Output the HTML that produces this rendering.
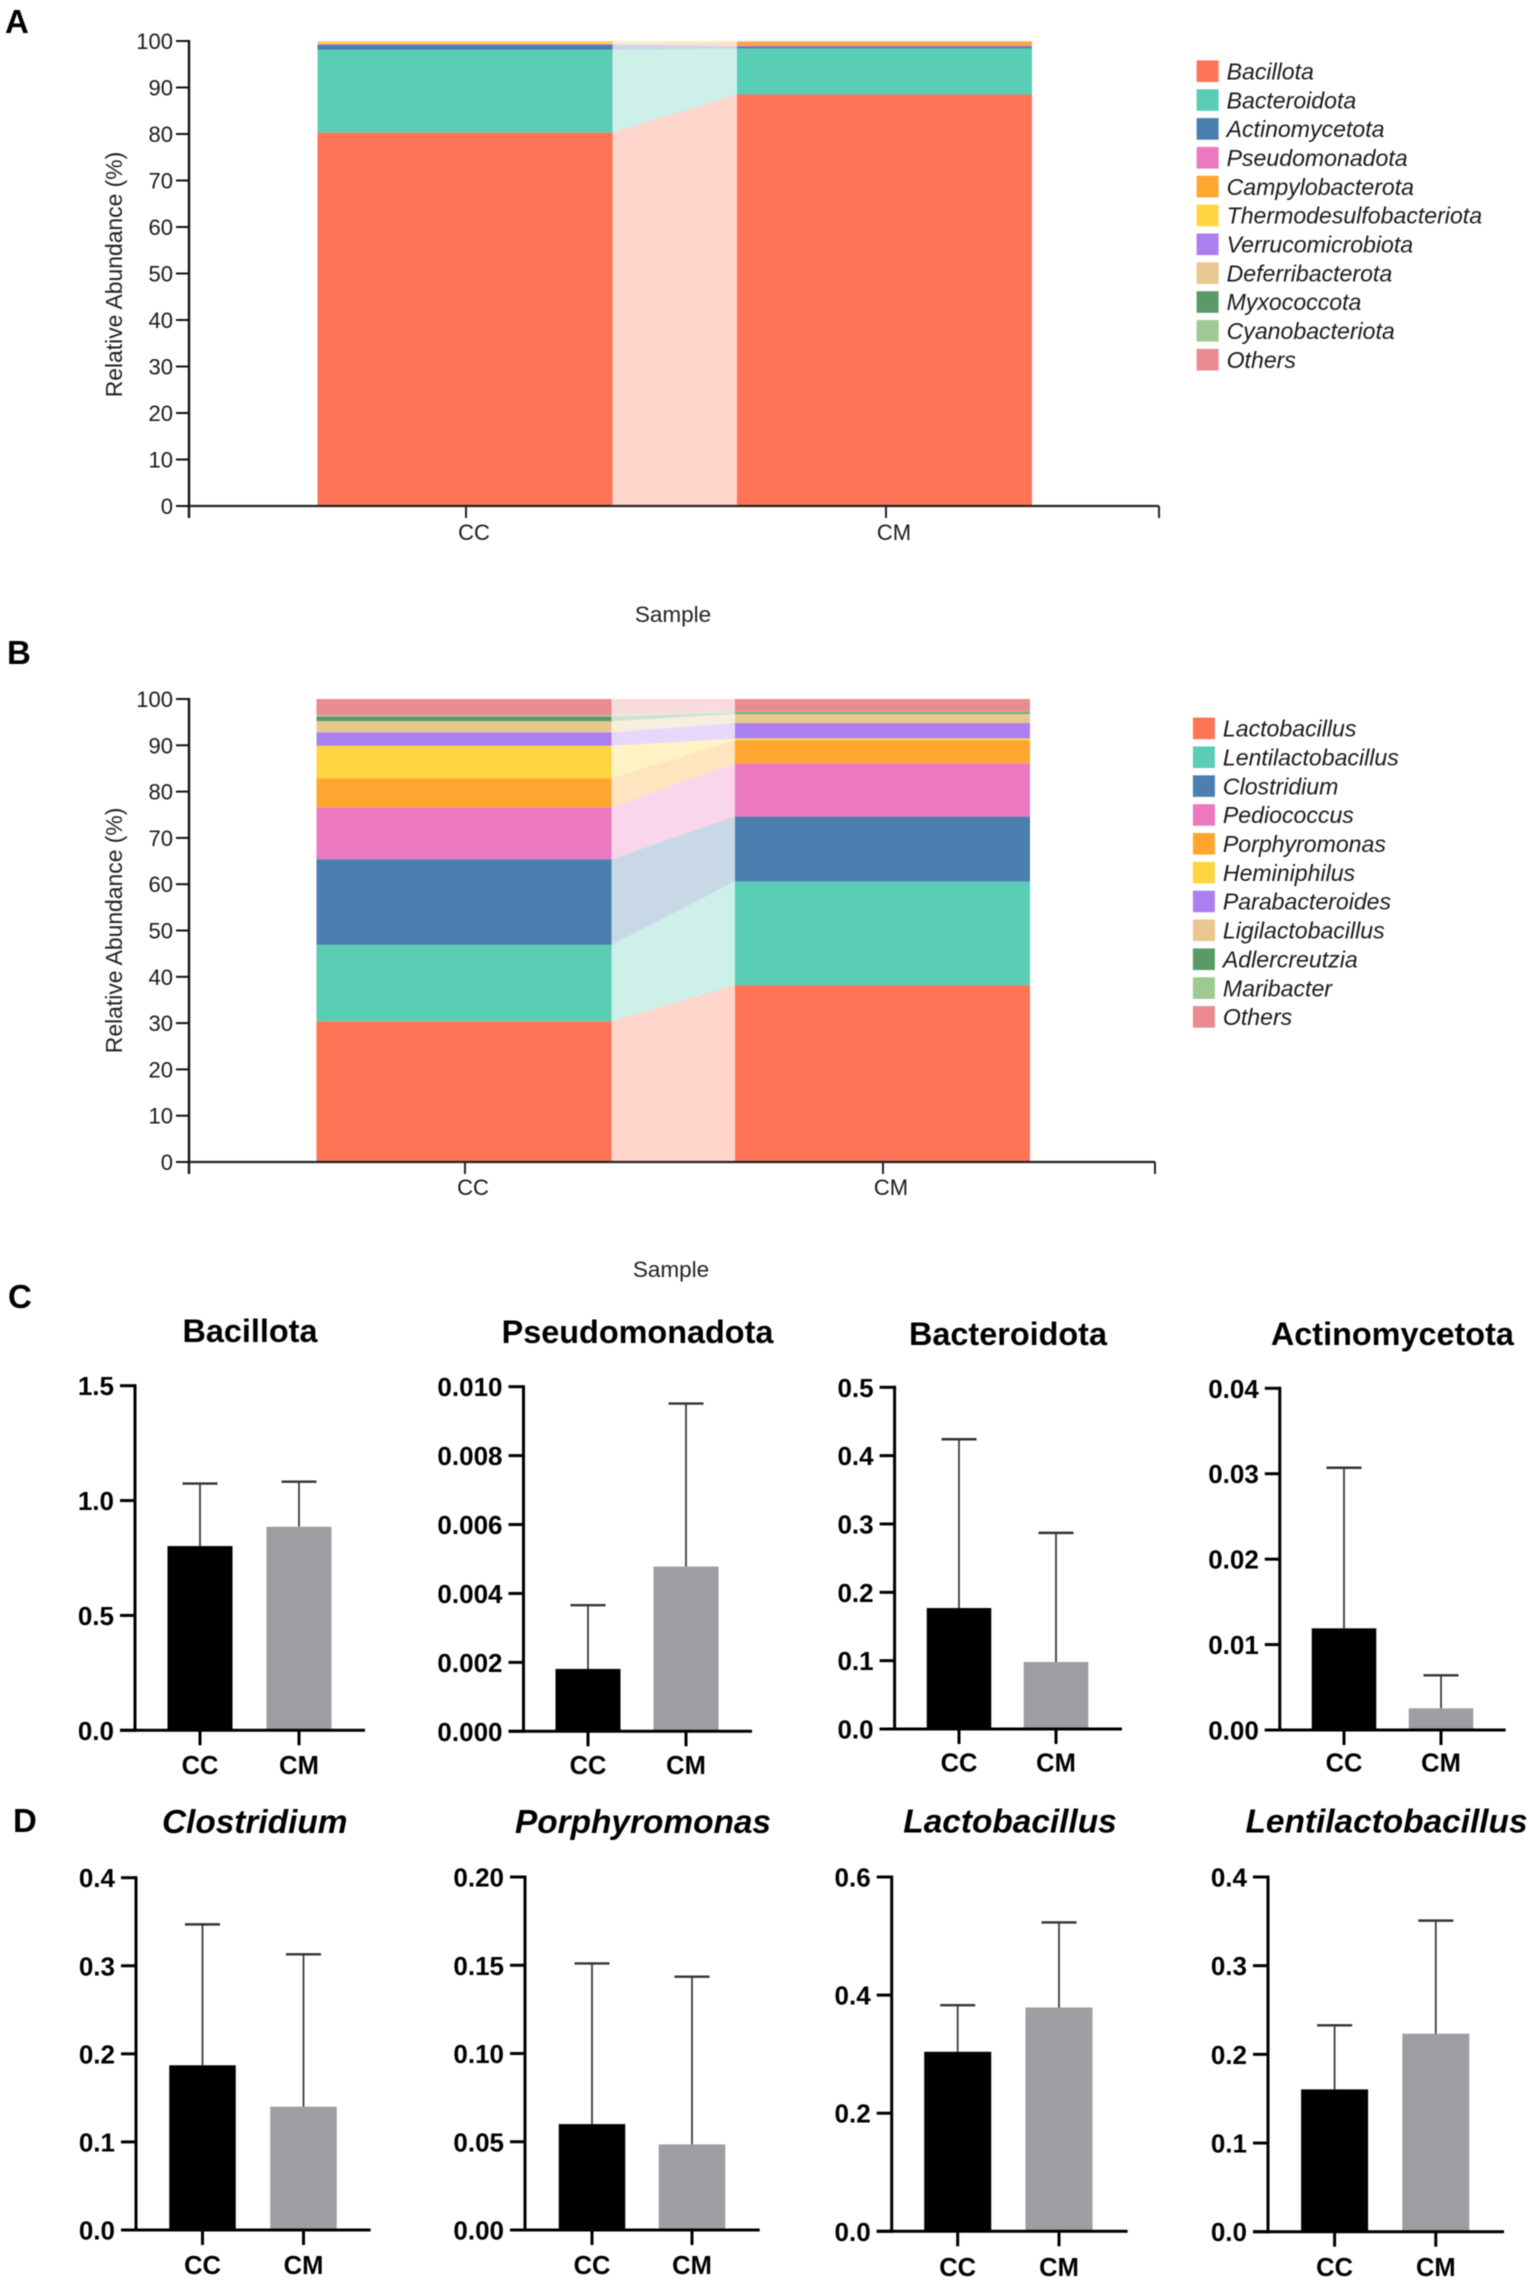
<!DOCTYPE html>
<html lang="en">
<head>
<meta charset="utf-8">
<title>Relative abundance of gut microbiota in CC and CM samples</title>
<style>
  html, body { margin: 0; padding: 0; background: #fff; }
  svg { display: block; font-family: "Liberation Sans", Arial, sans-serif; filter: blur(0.5px); }
</style>
</head>
<body>
<svg id="figure" xmlns="http://www.w3.org/2000/svg" width="1535" height="2284" viewBox="0 0 1535 2284">
  <rect x="0" y="0" width="1535" height="2284" fill="#ffffff"/>
  <text x="5" y="33" font-size="33" font-weight="700" fill="#000">A</text>
  <text x="7" y="664" font-size="33" font-weight="700" fill="#000">B</text>
  <text x="8" y="1308" font-size="33" font-weight="700" fill="#000">C</text>
  <text x="13" y="1832" font-size="33" font-weight="700" fill="#000">D</text>
</svg>
<script>
// ---------- Stacked chart data ----------
const sampleNames = ['CC', 'CM'];
const stackTicks = [0, 10, 20, 30, 40, 50, 60, 70, 80, 90, 100];
const taxonColors = ['#FF7357', '#5ACDB5', '#4A7FB0', '#EC78BD', '#FFA630', '#FFD63F', '#AB7FF0', '#E8C88E', '#5A9A66', '#9FC993', '#E98B90'];

const phylumNames = ['Bacillota', 'Bacteroidota', 'Actinomycetota', 'Pseudomonadota', 'Campylobacterota', 'Thermodesulfobacteriota', 'Verrucomicrobiota', 'Deferribacterota', 'Myxococcota', 'Cyanobacteriota', 'Others'];
const phylumCC = [80.3, 17.8, 1.1, 0.2, 0.1, 0.45, 0.02, 0.01, 0.01, 0.005, 0.005];
const phylumCM = [88.5, 9.9, 0.4, 0.3, 0.7, 0.1, 0.05, 0.02, 0.01, 0.01, 0.01];

const genusNames = ['Lactobacillus', 'Lentilactobacillus', 'Clostridium', 'Pediococcus', 'Porphyromonas', 'Heminiphilus', 'Parabacteroides', 'Ligilactobacillus', 'Adlercreutzia', 'Maribacter', 'Others'];
const genusCC = [30.4, 16.5, 18.5, 11.2, 6.3, 7.0, 2.9, 2.4, 1.0, 0.3, 3.5];
const genusCM = [38.2, 22.4, 14.0, 11.5, 5.0, 0.4, 3.3, 2.0, 0.3, 0.2, 2.7];

// ---------- Bar chart data ----------
const barCategories = ['CC', 'CM'];

const bacillotaMeans = [0.802, 0.886];
const bacillotaUpper = [1.074, 1.082];
const bacillotaTicks = ['0.0', '0.5', '1.0', '1.5'];

const pseudomonadotaMeans = [0.00181, 0.00478];
const pseudomonadotaUpper = [0.00366, 0.00951];
const pseudomonadotaTicks = ['0.000', '0.002', '0.004', '0.006', '0.008', '0.010'];

const bacteroidotaMeans = [0.177, 0.098];
const bacteroidotaUpper = [0.424, 0.287];
const bacteroidotaTicks = ['0.0', '0.1', '0.2', '0.3', '0.4', '0.5'];

const actinomycetotaMeans = [0.0119, 0.00254];
const actinomycetotaUpper = [0.0307, 0.0064];
const actinomycetotaTicks = ['0.00', '0.01', '0.02', '0.03', '0.04'];

const clostridiumMeans = [0.187, 0.14];
const clostridiumUpper = [0.347, 0.313];
const clostridiumTicks = ['0.0', '0.1', '0.2', '0.3', '0.4'];

const porphyromonasMeans = [0.06, 0.0485];
const porphyromonasUpper = [0.151, 0.1435];
const porphyromonasTicks = ['0.00', '0.05', '0.10', '0.15', '0.20'];

const lactobacillusMeans = [0.304, 0.379];
const lactobacillusUpper = [0.383, 0.523];
const lactobacillusTicks = ['0.0', '0.2', '0.4', '0.6'];

const lentilactobacillusMeans = [0.1605, 0.2233];
const lentilactobacillusUpper = [0.2327, 0.3508];
const lentilactobacillusTicks = ['0.0', '0.1', '0.2', '0.3', '0.4'];

// ---------- Drawing ----------
const SVG_NS = 'http://www.w3.org/2000/svg';
const root = document.getElementById('figure');

function add(parent, tag, attrs, text) {
  const node = document.createElementNS(SVG_NS, tag);
  Object.keys(attrs).forEach(function (k) { node.setAttribute(k, attrs[k]); });
  if (text !== undefined) node.textContent = text;
  parent.appendChild(node);
  return node;
}

function slug(s) { return String(s).toLowerCase().replace(/[^a-z0-9]+/g, '-'); }

function cumulative(values) {
  const out = [0];
  values.forEach(function (v) { out.push(out[out.length - 1] + v); });
  return out;
}

function drawStacked(cfg) {
  const g = add(root, 'g', {});
  
  
  const maxTick = stackTicks[stackTicks.length - 1];
  const yScale = function (v) { return cfg.y0 - (v / maxTick) * (cfg.y0 - cfg.top); };
  const left = cumulative(cfg.cc);
  const right = cumulative(cfg.cm);

  cfg.names.forEach(function (name, i) {
    const points = [
      [cfg.ccX + cfg.barW, yScale(left[i])],
      [cfg.cmX, yScale(right[i])],
      [cfg.cmX, yScale(right[i + 1])],
      [cfg.ccX + cfg.barW, yScale(left[i + 1])]
    ].map(function (p) { return p.join(','); }).join(' ');
    const flow = add(g, 'polygon', { points: points, fill: taxonColors[i], 'fill-opacity': 0.3 });
    
    

    const ccSeg = add(g, 'rect', { x: cfg.ccX, y: yScale(left[i + 1]), width: cfg.barW, height: yScale(left[i]) - yScale(left[i + 1]), fill: taxonColors[i] });
    
    

    const cmSeg = add(g, 'rect', { x: cfg.cmX, y: yScale(right[i + 1]), width: cfg.barW, height: yScale(right[i]) - yScale(right[i + 1]), fill: taxonColors[i] });
    
    
  });

  const yAxis = add(g, 'line', { x1: cfg.axisX, x2: cfg.axisX, y1: cfg.top - 1, y2: cfg.tickBottom, stroke: '#111', 'stroke-width': 2.4 });
  
  

  const xAxis = add(g, 'line', { x1: cfg.axisX, x2: cfg.axisEnd, y1: cfg.y0, y2: cfg.y0, stroke: '#222', 'stroke-width': 2.2 });
  
  

  const endTick = add(g, 'line', { x1: cfg.axisEnd, x2: cfg.axisEnd, y1: cfg.y0, y2: cfg.tickBottom, stroke: '#222', 'stroke-width': 2 });
  
  

  stackTicks.forEach(function (t) {
    const tick = add(g, 'line', { x1: cfg.axisX - 13, x2: cfg.axisX, y1: yScale(t), y2: yScale(t), stroke: '#111', 'stroke-width': 2 });
    
    
    const label = add(g, 'text', { x: cfg.axisX - 16, y: yScale(t) + 8, 'font-size': 22, 'text-anchor': 'end', fill: '#1a1a1a' }, String(t));
    
    
  });

  sampleNames.forEach(function (s, i) {
    const tx = i === 0 ? cfg.ccTick : cfg.cmTick;
    const tick = add(g, 'line', { x1: tx, x2: tx, y1: cfg.y0, y2: cfg.tickBottom, stroke: '#222', 'stroke-width': 2 });
    
    
    const label = add(g, 'text', { x: tx + 8, y: cfg.tickLabelY, 'font-size': 22, 'text-anchor': 'middle', fill: '#1a1a1a' }, s);
    
    
  });

  const yTitle = add(g, 'text', { transform: 'translate(122,' + cfg.yTitleCy + ') rotate(-90)', 'font-size': 22.9, 'text-anchor': 'middle', fill: '#222' }, 'Relative Abundance (%)');
  
  

  const xTitle = add(g, 'text', { x: cfg.xTitleX, y: cfg.xTitleY, 'font-size': 22.5, 'text-anchor': 'middle', fill: '#222' }, 'Sample');
  
  

  const legend = add(g, 'g', {});
  
  
  cfg.names.forEach(function (name, i) {
    const y = cfg.legendY + i * 28.85;
    const swatch = add(legend, 'rect', { x: cfg.legendX, y: y, width: 22, height: 21.6, fill: taxonColors[i] });
    
    
    const label = add(legend, 'text', { x: cfg.legendX + 30, y: y + 19, 'font-size': 23.1, 'font-style': 'italic', fill: '#1a1a1a' }, name);
    
    
  });
}

function drawBars(cfg) {
  const g = add(root, 'g', {});
  
  
  const tickValues = cfg.ticks.map(Number);
  const maxTick = tickValues[tickValues.length - 1];
  const yScale = function (v) { return cfg.y0 - (v / maxTick) * (cfg.y0 - cfg.top); };
  const xScale = function (i) { return cfg.firstCenter + i * cfg.step; };

  const title = add(g, 'text', { x: cfg.titleX, y: cfg.titleY, 'font-size': cfg.italic ? 33.4 : 32.4, 'font-weight': 700, 'font-style': cfg.italic ? 'italic' : 'normal', 'text-anchor': 'middle', fill: '#000' }, cfg.title);
  
  

  barCategories.forEach(function (cat, i) {
    const cx = xScale(i);
    const fill = i === 0 ? '#000000' : '#9E9EA2';
    const stem = add(g, 'line', { x1: cx, x2: cx, y1: yScale(cfg.means[i]), y2: yScale(cfg.upper[i]), stroke: '#333', 'stroke-width': 1.7 });
    
    
    const cap = add(g, 'line', { x1: cx - 17.5, x2: cx + 17.5, y1: yScale(cfg.upper[i]), y2: yScale(cfg.upper[i]), stroke: '#333', 'stroke-width': 2.4 });
    
    
    const bar = add(g, 'rect', { x: cx - cfg.barW / 2, y: yScale(cfg.means[i]), width: cfg.barW, height: cfg.y0 - yScale(cfg.means[i]), fill: fill });
    
    
    const tick = add(g, 'line', { x1: cx, x2: cx, y1: cfg.y0, y2: cfg.y0 + 15, stroke: '#000', 'stroke-width': 3 });
    
    
    const label = add(g, 'text', { x: cx, y: cfg.labelY, 'font-size': 25.5, 'font-weight': 700, 'text-anchor': 'middle', fill: '#000' }, cat);
    
    
  });

  const yAxis = add(g, 'line', { x1: cfg.axisX, x2: cfg.axisX, y1: cfg.top - 1.5, y2: cfg.y0 + 1.5, stroke: '#000', 'stroke-width': 3 });
  
  

  const xAxis = add(g, 'line', { x1: cfg.axisX - 15, x2: cfg.axisEnd, y1: cfg.y0, y2: cfg.y0, stroke: '#000', 'stroke-width': 3 });
  
  

  cfg.ticks.forEach(function (t, i) {
    const y = yScale(tickValues[i]);
    const tick = add(g, 'line', { x1: cfg.axisX - 15, x2: cfg.axisX, y1: y, y2: y, stroke: '#000', 'stroke-width': 3 });
    
    
    const label = add(g, 'text', { x: cfg.axisX - 21, y: y + 9.5, 'font-size': 26, 'font-weight': 700, 'text-anchor': 'end', fill: '#000' }, t);
    
    
  });
}

drawStacked({ id: 'phylum', names: phylumNames, cc: phylumCC, cm: phylumCM, axisX: 189, axisEnd: 1159, top: 41, y0: 506, tickBottom: 518, ccX: 317.5, cmX: 737, barW: 295, ccTick: 466, cmTick: 886, tickLabelY: 540, yTitleCy: 274.5, xTitleX: 673, xTitleY: 622, legendX: 1196.6, legendY: 60.4 });
drawStacked({ id: 'genus', names: genusNames, cc: genusCC, cm: genusCM, axisX: 189, axisEnd: 1155, top: 699, y0: 1162, tickBottom: 1174, ccX: 316.5, cmX: 735, barW: 295, ccTick: 465, cmTick: 883, tickLabelY: 1195, yTitleCy: 930.4, xTitleX: 671, xTitleY: 1277, legendX: 1192.9, legendY: 717.6 });

drawBars({ title: 'Bacillota', italic: false, means: bacillotaMeans, upper: bacillotaUpper, ticks: bacillotaTicks, titleX: 250, titleY: 1342, axisX: 135, axisEnd: 365, top: 1385.7, y0: 1730.3, firstCenter: 200, step: 99, barW: 65, labelY: 1774 });
drawBars({ title: 'Pseudomonadota', italic: false, means: pseudomonadotaMeans, upper: pseudomonadotaUpper, ticks: pseudomonadotaTicks, titleX: 637.5, titleY: 1343, axisX: 523.5, axisEnd: 752, top: 1386.7, y0: 1731.3, firstCenter: 588, step: 98, barW: 65, labelY: 1774 });
drawBars({ title: 'Bacteroidota', italic: false, means: bacteroidotaMeans, upper: bacteroidotaUpper, ticks: bacteroidotaTicks, titleX: 1008, titleY: 1345, axisX: 894.6, axisEnd: 1122, top: 1387.3, y0: 1729, firstCenter: 959, step: 97, barW: 64.5, labelY: 1771.7 });
drawBars({ title: 'Actinomycetota', italic: false, means: actinomycetotaMeans, upper: actinomycetotaUpper, ticks: actinomycetotaTicks, titleX: 1392.4, titleY: 1345, axisX: 1279.8, axisEnd: 1505.6, top: 1388.3, y0: 1730, firstCenter: 1344, step: 97, barW: 64.5, labelY: 1771.7 });

drawBars({ title: 'Clostridium', italic: true, means: clostridiumMeans, upper: clostridiumUpper, ticks: clostridiumTicks, titleX: 254.7, titleY: 1833, axisX: 136, axisEnd: 370.6, top: 1877.7, y0: 2230, firstCenter: 202.5, step: 101, barW: 66.5, labelY: 2274 });
drawBars({ title: 'Porphyromonas', italic: true, means: porphyromonasMeans, upper: porphyromonasUpper, ticks: porphyromonasTicks, titleX: 643, titleY: 1833, axisX: 525, axisEnd: 759.7, top: 1877, y0: 2230, firstCenter: 592, step: 100, barW: 66.5, labelY: 2274 });
drawBars({ title: 'Lactobacillus', italic: true, means: lactobacillusMeans, upper: lactobacillusUpper, ticks: lactobacillusTicks, titleX: 1010, titleY: 1832.7, axisX: 891.7, axisEnd: 1127.6, top: 1877, y0: 2231.3, firstCenter: 957.7, step: 101.3, barW: 67, labelY: 2276 });
drawBars({ title: 'Lentilactobacillus', italic: true, means: lentilactobacillusMeans, upper: lentilactobacillusUpper, ticks: lentilactobacillusTicks, titleX: 1386.5, titleY: 1832.7, axisX: 1268, axisEnd: 1504, top: 1877, y0: 2231.7, firstCenter: 1334.6, step: 101.2, barW: 67, labelY: 2276 });
</script>
</body>
</html>
